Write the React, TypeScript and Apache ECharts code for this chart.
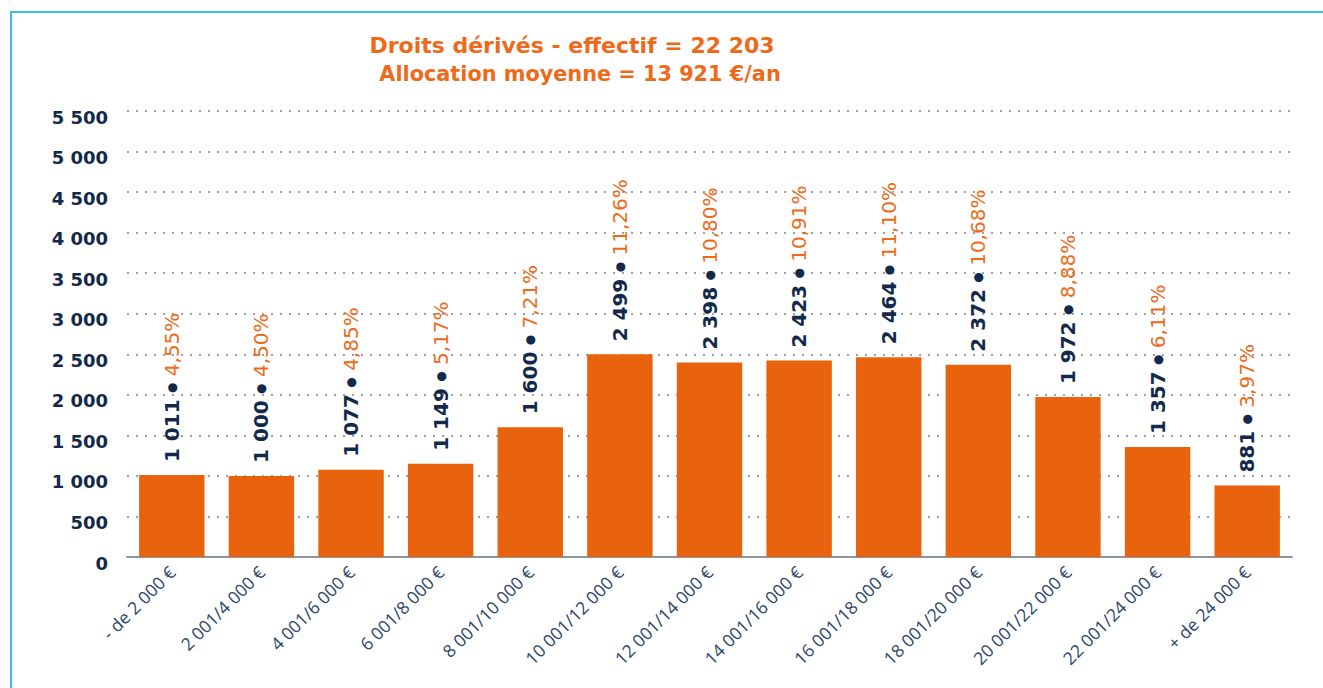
import React, { useEffect, useRef } from "react";
import * as echarts from "echarts";

const categories = [
  "- de 2 000 €",
  "2 001/4 000 €",
  "4 001/6 000 €",
  "6 001/8 000 €",
  "8 001/10 000 €",
  "10 001/12 000 €",
  "12 001/14 000 €",
  "14 001/16 000 €",
  "16 001/18 000 €",
  "18 001/20 000 €",
  "20 001/22 000 €",
  "22 001/24 000 €",
  "+ de 24 000 €",
];
const effectifs = [1011, 1000, 1077, 1149, 1600, 2499, 2398, 2423, 2464, 2372, 1972, 1357, 881];
const percents = ["4,55%", "4,50%", "4,85%", "5,17%", "7,21%", "11,26%", "10,80%", "10,91%", "11,10%", "10,68%", "8,88%", "6,11%", "3,97%"];
const titleLines = ["Droits dérivés - effectif = 22 203", "Allocation moyenne = 13 921 €/an"];
const yMax = 5500;
const yInterval = 500;

const fmt = (n: number) => String(n).replace(/\B(?=(\d{3})+(?!\d))/g, " ");

export default function App() {
  const ref = useRef<HTMLDivElement>(null);
  useEffect(() => {
    if (!ref.current) return;
    const chart = echarts.init(ref.current, null, { renderer: "svg" });
    const orange = "#ee6a1a";
    const navy = "#13294b";
    chart.setOption({
      animation: false,
      backgroundColor: "#ffffff",
      graphic: [
        {
          type: "rect",
          shape: { x: 11, y: 12, width: 1400, height: 800 },
          style: { fill: "none", stroke: "#41b8f0", lineWidth: 2 },
          silent: true,
        },
        {
          type: "text",
          x: 572,
          y: 45,
          style: {
            text: titleLines[0],
            fill: orange,
            font: "bold 22px 'DejaVu Sans'",
            align: "center",
            verticalAlign: "middle",
          },
        },
        {
          type: "text",
          x: 580,
          y: 74,
          style: {
            text: titleLines[1],
            fill: orange,
            font: "bold 20.8px 'DejaVu Sans'",
            align: "center",
            verticalAlign: "middle",
          },
        },
      ],
      grid: { left: 127, right: 31, top: 111, bottom: 131, containLabel: false },
      xAxis: {
        type: "category",
        data: categories,
        axisLine: { show: true, lineStyle: { color: "#8a96a3", width: 2 } },
        axisTick: { show: false },
        axisLabel: {
          rotate: 45,
          interval: 0,
          color: "#2a4669",
          fontFamily: "Open Sans",
          fontSize: 17.5,
          margin: 12,
        },
      },
      yAxis: {
        type: "value",
        min: 0,
        max: yMax,
        interval: yInterval,
        axisLine: { show: false },
        axisTick: { show: false },
        axisLabel: {
          formatter: (v: number) => fmt(v),
          color: navy,
          fontFamily: "DejaVu Sans",
          fontWeight: "bold",
          fontSize: 18,
          margin: 19,
          verticalAlign: "top",
          lineHeight: 12,
        },
        splitLine: {
          show: true,
          lineStyle: { color: "#a0a0a0", width: 2, type: [2, 7] },
        },
      },
      series: [
        {
          type: "bar",
          data: effectifs,
          barCategoryGap: "27%",
          itemStyle: { color: "#e9620e" },
          label: {
            show: true,
            position: "top",
            rotate: 90,
            align: "left",
            verticalAlign: "middle",
            distance: 13,
            formatter: (p: any) => `{v|${fmt(p.value)}}{s| }{d|●}{s| }{p|${percents[p.dataIndex]}}`,
            rich: {
              v: { color: navy, fontFamily: "DejaVu Sans", fontWeight: "bold", fontSize: 20 },
              s: { color: navy, fontFamily: "DejaVu Sans", fontSize: 20 },
              d: { color: navy, fontFamily: "DejaVu Sans", fontSize: 12, verticalAlign: "middle" },
              p: { color: orange, fontFamily: "DejaVu Sans", fontSize: 20 },
            },
          },
        },
      ],
    });
    return () => chart.dispose();
  }, []);
  return (
    <div
      ref={ref}
      style={{ position: "fixed", left: 0, top: 0, width: 1323, height: 688 }}
    />
  );
}
